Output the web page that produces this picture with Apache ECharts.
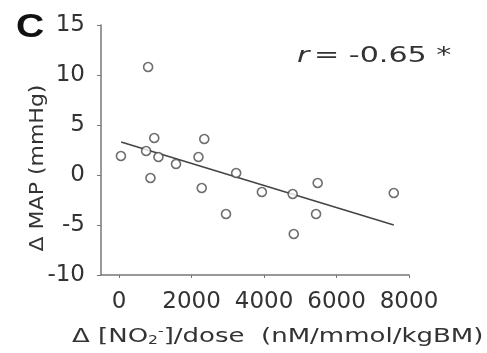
<!DOCTYPE html>
<html>
<head>
<meta charset="utf-8">
<script src="https://cdn.jsdelivr.net/npm/echarts@6/dist/echarts.min.js"></script>
<style>
  html, body { margin: 0; padding: 0; background: #fff; }
  #chart { width: 487px; height: 353px; }
</style>
</head>
<body>
<div id="chart"></div>
<script>
// Change in nitrite per dose vs change in mean arterial pressure
const nitriteDose = [800, 970, 2350, 50, 745, 1085, 1570, 2190, 865, 3230, 2280, 3940, 4790, 5480, 2950, 5435, 4820, 7580];
const deltaMAP    = [10.8, 3.7, 3.6, 1.9, 2.4, 1.8, 1.1, 1.8, -0.3, 0.2, -1.3, -1.7, -1.9, -0.8, -3.9, -3.9, -5.9, -1.8];
// Regression line end points
const fitX = [55, 7580];
const fitY = [3.3, -5.0];
const xTicks = [0, 2000, 4000, 6000, 8000];
const yTicks = [-10, -5, 0, 5, 10, 15];
const rLabel = '-0.65';

const points = nitriteDose.map((x, i) => [x, deltaMAP[i]]);
const fitLine = fitX.map((x, i) => [x, fitY[i]]);

const textColor = '#333';
const axisColor = '#777';
const font = 'DejaVu Sans';

const chart = echarts.init(document.getElementById('chart'), null, { renderer: 'canvas' });
chart.setOption({
  animation: false,
  backgroundColor: '#fff',
  grid: { left: 101, top: 25, width: 308, height: 250, containLabel: false },
  xAxis: {
    type: 'value',
    min: -500, max: 8000,
    splitLine: { show: false },
    axisLine: { show: true, onZero: false, lineStyle: { color: axisColor, width: 1.5 } },
    axisTick: { show: true, length: 3, customValues: xTicks, lineStyle: { color: axisColor } },
    axisLabel: {
      customValues: xTicks, color: textColor, fontFamily: font, fontSize: 23, margin: 16,
      formatter: v => String(v)
    }
  },
  yAxis: {
    type: 'value',
    min: -10, max: 15,
    splitLine: { show: false },
    axisLine: { show: true, onZero: false, lineStyle: { color: axisColor, width: 1.5 } },
    axisTick: { show: true, length: 4, customValues: yTicks, lineStyle: { color: axisColor } },
    axisLabel: {
      customValues: yTicks, color: textColor, fontFamily: font, fontSize: 23, margin: 16,
      formatter: v => String(v)
    }
  },
  graphic: [
    {
      type: 'text', x: 16, y: 28, scaleX: 1.15,
      style: { text: 'C', font: 'bold 34px "Liberation Sans", Arial', fill: '#111', align: 'left', verticalAlign: 'middle' }
    },
    {
      type: 'text', x: 38, y: 168, rotation: Math.PI / 2, scaleX: 1.1,
      style: { text: 'Δ MAP (mmHg)', font: '20px "DejaVu Sans"', fill: textColor, align: 'center', verticalAlign: 'middle' }
    },
    {
      type: 'text', x: 72, y: 337, scaleX: 1.3,
      style: {
        text: '{t|Δ [NO}{sub|2}{sup|-}{t|]/dose  (nM/mmol/kgBM)}',
        align: 'left', verticalAlign: 'middle',
        rich: {
          t: { font: '20px "DejaVu Sans"', fill: textColor },
          sub: { font: '12px "DejaVu Sans"', fill: textColor, padding: [8, 0, 0, 0] },
          sup: { font: '12px "DejaVu Sans"', fill: textColor, padding: [0, 0, 10, 0] }
        }
      }
    },
    {
      type: 'text', x: 297, y: 56, scaleX: 1.37,
      style: {
        text: '{i|r} {t|= ' + rLabel + ' *}',
        align: 'left', verticalAlign: 'middle',
        rich: {
          i: { font: 'italic 22px "DejaVu Sans"', fill: textColor },
          t: { font: '22px "DejaVu Sans"', fill: textColor }
        }
      }
    }
  ],
  series: [
    {
      type: 'line',
      data: fitLine,
      symbol: 'none',
      lineStyle: { color: '#444', width: 1.6 },
      z: 2
    },
    {
      type: 'scatter',
      data: points,
      symbol: 'circle',
      symbolSize: 9,
      itemStyle: { color: '#fff', borderColor: '#4a4a4a', borderWidth: 1.6 },
      z: 3
    }
  ]
});
</script>
</body>
</html>
